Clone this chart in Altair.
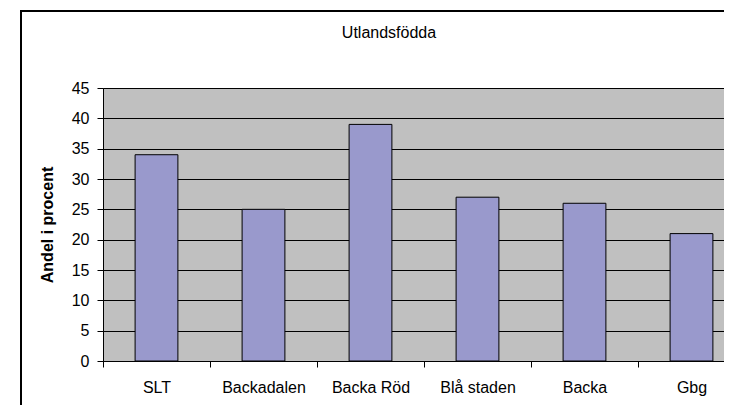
import altair as alt
import pandas as pd

categories = ["SLT", "Backadalen", "Backa Röd", "Blå staden", "Backa", "Gbg"]
values = [34, 25, 39, 27, 26, 21]
y_ticks = [0, 5, 10, 15, 20, 25, 30, 35, 40, 45]
chart_title = "Utlandsfödda"
y_title = "Andel i procent"

FONT = "Liberation Sans"
FS = 16

df = pd.DataFrame({"omrade": categories, "andel": values})

border = alt.Chart(pd.DataFrame({"a": [0]})).mark_rect(
    filled=False, stroke="black", strokeWidth=2, clip=False
).encode(
    x=alt.value(-82), x2=alt.value(700), y=alt.value(-77), y2=alt.value(360)
)

bars = alt.Chart(df).mark_bar(
    color="#9999CC", stroke="black", strokeWidth=1, width={"band": 0.4}
).encode(
    x=alt.X(
        "omrade:N",
        sort=categories,
        title=None,
        scale=alt.Scale(paddingInner=0, paddingOuter=0),
        axis=alt.Axis(
            labelAngle=0, tickBand="extent", tickSize=6, labelPadding=12,
            labelFont=FONT, labelFontSize=FS, labelColor="black",
            domainColor="black", tickColor="black", grid=False,
        ),
    ),
    y=alt.Y(
        "andel:Q",
        scale=alt.Scale(domain=[0, 45], nice=False),
        title=y_title,
        axis=alt.Axis(
            values=y_ticks, grid=True, gridColor="black", gridWidth=1,
            tickSize=6, labelPadding=8, labelFont=FONT, labelFontSize=FS,
            labelColor="black", domainColor="black", tickColor="black",
            titleFont=FONT, titleFontSize=FS, titleFontWeight="bold",
            titleColor="black", titleX=-56, titleY=136.5, titleAngle=270,
            titleAlign="center", titleBaseline="middle",
        ),
    ),
)

chart = alt.layer(border, bars).properties(
    width=642,
    height=273,
    title=alt.TitleParams(
        chart_title, font=FONT, fontSize=FS, fontWeight="normal",
        color="black", anchor="middle", dx=-35, offset=-44,
        baseline="alphabetic",
    ),
    autosize=alt.AutoSizeParams(type="none"),
    padding={"left": 95, "top": 80, "right": -21, "bottom": 44},
    background="white",
).configure_view(
    fill="#C0C0C0", stroke="#808080", strokeWidth=1
)

chart.save("out.html", embed_options={"renderer": "svg", "actions": False})
